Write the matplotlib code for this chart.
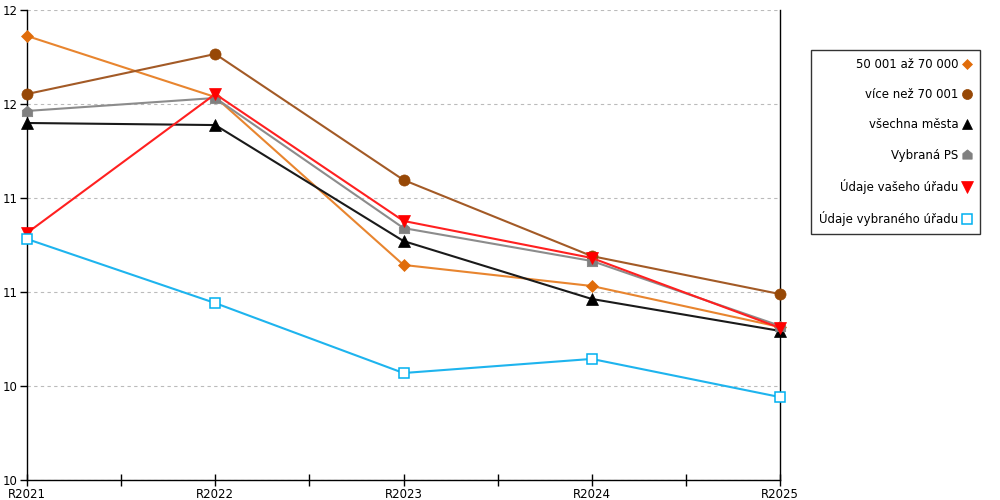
import math
import matplotlib
matplotlib.use("Agg")
import matplotlib.pyplot as plt
from matplotlib.path import Path
from matplotlib.ticker import FuncFormatter, MultipleLocator
from matplotlib.lines import Line2D

plt.rcParams['font.family'] = ['DejaVu Sans']

categories = ["R2021", "R2022", "R2023", "R2024", "R2025"]
s_50_70 = [11.862, 11.537, 10.644, 10.532, 10.314]
s_nad70 = [11.553, 11.766, 11.096, 10.691, 10.489]
s_vsechna = [11.399, 11.388, 10.771, 10.463, 10.293]
s_ps = [11.463, 11.532, 10.840, 10.665, 10.320]
s_vas = [10.814, 11.553, 10.878, 10.681, 10.309]
s_vybrany = [10.782, 10.441, 10.069, 10.144, 9.941]

labels = ["50 001 až 70 000", "více než 70 001", "všechna města",
          "Vybraná PS", "Údaje vašeho úřadu", "Údaje vybraného úřadu"]

house = Path([(-1, -1), (1, -1), (1, 0.2), (0, 1), (-1, 0.2), (-1, -1)],
             [Path.MOVETO, Path.LINETO, Path.LINETO, Path.LINETO, Path.LINETO, Path.CLOSEPOLY])

styles = [
    dict(data=s_50_70, lc="#E8852F", mfc="#E06C0A", mec="#E06C0A", m="D", ms=6, mew=0.5),
    dict(data=s_nad70, lc="#A35A26", mfc="#974806", mec="#974806", m="o", ms=8, mew=0.5),
    dict(data=s_vsechna, lc="#1A1A1A", mfc="#000000", mec="#000000", m="^", ms=8.5, mew=0.5),
    dict(data=s_ps, lc="#8C8C8C", mfc="#808080", mec="#808080", m=house, ms=7.5, mew=0.5),
    dict(data=s_vas, lc="#FF2020", mfc="#FF0000", mec="#FF0000", m="v", ms=9, mew=0.5),
    dict(data=s_vybrany, lc="#1EB4EE", mfc="white", mec="#00B0F0", m="s", ms=7.5, mew=1.1),
]

fig = plt.figure(figsize=(10, 5), dpi=100)
ax = fig.add_axes([0.027, 0.04, 0.753, 0.94])
x = list(range(len(categories)))

handles = []
for st, lab in zip(styles, labels):
    ax.plot(x, st["data"], color=st["lc"], lw=1.5, marker=st["m"], ms=st["ms"],
            mfc=st["mfc"], mec=st["mec"], mew=st["mew"], clip_on=False, zorder=3)
    handles.append(Line2D([], [], ls="none", marker=st["m"], ms=st["ms"] * 0.9,
                          mfc=st["mfc"], mec=st["mec"], mew=st["mew"]))

ax.set_xlim(0, 4)
ax.set_ylim(9.5, 12.0)
ax.yaxis.set_major_locator(MultipleLocator(0.5))
ax.yaxis.set_major_formatter(FuncFormatter(lambda v, p: str(int(math.floor(v + 0.5)))))
ax.set_xticks(x)
ax.set_xticklabels(categories)
ax.set_xticks([0.5, 1.5, 2.5, 3.5], minor=True)
ax.tick_params(axis='x', which='both', direction='inout', length=9, width=1, labelsize=8.5, pad=1)
ax.tick_params(axis='y', direction='out', length=5, width=1, labelsize=8.5, pad=2)
ax.yaxis.grid(True, ls=(0, (3, 3)), color="#BBBBBB", lw=0.8)
ax.set_axisbelow(True)
ax.spines['top'].set_visible(False)
for sp in ['left', 'right', 'bottom']:
    ax.spines[sp].set_color('black')
    ax.spines[sp].set_linewidth(1)

leg = fig.legend(handles, labels, loc='upper left', bbox_to_anchor=(0.811, 0.9),
                 markerfirst=False, frameon=True, fancybox=False, edgecolor='black',
                 fontsize=8.5, labelspacing=1.45, handlelength=0.8, handletextpad=0.35,
                 borderpad=0.7, borderaxespad=0)
leg.get_frame().set_linewidth(1)
for t in leg.get_texts():
    t.set_ha('right')
leg._legend_box.align = "right"

fig.savefig("out.png", dpi=100)
